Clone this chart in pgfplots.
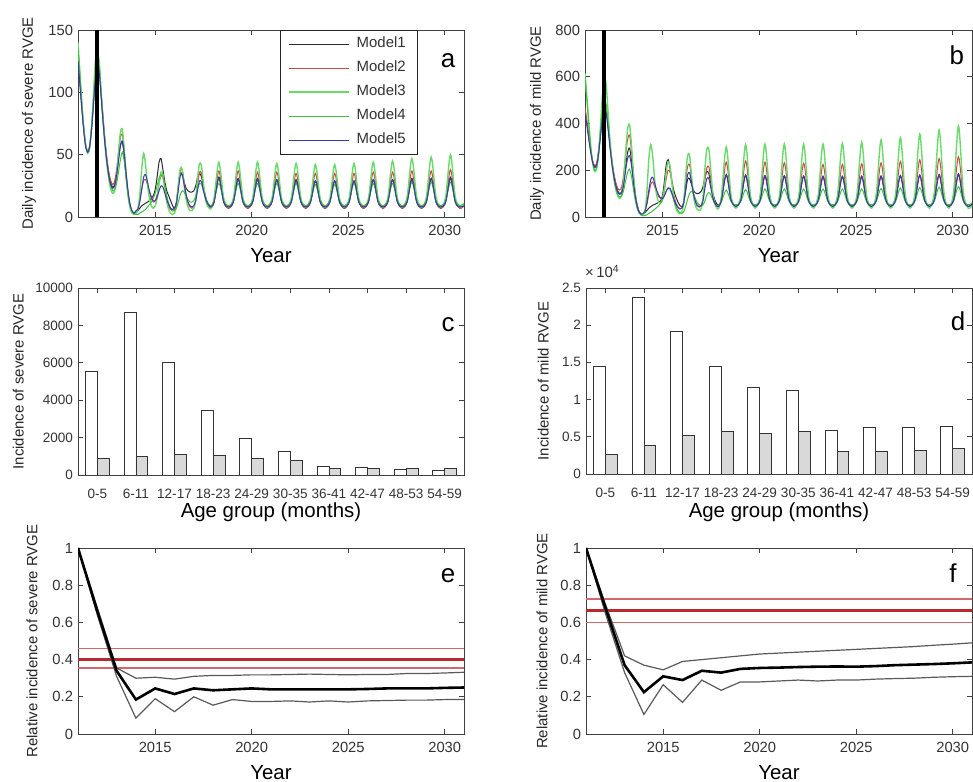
\documentclass[border=0pt]{standalone}
\usepackage{fontspec}
\setmainfont{Liberation Sans}
\usepackage{pgfplots}
\pgfplotsset{compat=1.18}
\usepackage{pgfplotstable}

\definecolor{mone}{HTML}{2B2B2B}
\definecolor{mtwo}{HTML}{D04848}
\definecolor{mthree}{HTML}{6ADB6A}
\definecolor{mfour}{HTML}{3EC23E}
\definecolor{mfive}{HTML}{3A3AAE}
\definecolor{refred}{HTML}{B8282D}
\definecolor{refredl}{HTML}{D46868}
\definecolor{bargrey}{HTML}{D9D9D9}

% daily incidence, severe
\pgfplotstableread{
t m1 m2 m3 m4 m5
2011.0 128 130 140 136 125
2011.1 108 110 116 114 106
2011.2 88 90 92 90 86
2011.3 70 71 72 71 69
2011.4 57 58 57 57 56
2011.5 52 53 51 52 52
2011.6 56 57 55 56 56
2011.7 70 72 72 70 70
2011.8 90 94 98 92 90
2011.9 112 118 125 115 110
2012.0 124 128 131 126 122
2012.1 118 122 125 120 116
2012.2 98 100 100 98 96
2012.3 78 80 78 77 76
2012.4 60 62 58 58 58
2012.5 45 47 42 43 44
2012.6 34 36 30 32 33
2012.7 27 29 22 25 26
2012.8 24 26 19 21 23
2012.9 26 29 21 22 25
2013.0 34 38 32 27 33
2013.1 47 52 52 36 45
2013.2 58 64 68 46 57
2013.3 60 66 70 52 61
2013.4 48 52 53 44 50
2013.5 32 34 32 30 34
2013.6 18 19 16 17 20
2013.7 9 9 7 9 10
2013.8 4 4 3 5 5
2013.9 3 3 2 3 3
2014.0 3 4 3 2 5
2014.1 5 7 6 2 6
2014.2 7 13 18 3 12
2014.3 9 22 38 4 22
2014.4 10 29 51 5 32
2014.5 11 30 42 6 34
2014.6 12 26 26 8 28
2014.7 13 20 15 10 21
2014.8 15 15 9 12 16
2014.9 17 12 7 15 13
2015.0 22 13 9 19 13
2015.1 32 18 15 25 16
2015.2 44 27 27 31 21
2015.3 47 33 36 34 25
2015.4 38 32 34 32 24
2015.5 28 24 22 25 19
2015.6 21 15 12 17 14
2015.7 17 9 6 11 10
2015.8 13 6 3 7 7
2015.9 9 5 2 5 6
2016.0 7 6 3 5 7
2016.1 12 12 10 7 11
2016.2 24 26 26 12 22
2016.3 35 37 39 18 33
2016.4 34 38 38 21 34
2016.5 28 28 25 20 26
2016.6 23 18 14 17 18
2016.7 21 11 8 14 12
2016.8 20 8 5 12 9
2016.9 20 7 5 12 8
2017.0 21 8 7 13 9
2017.1 25 13 14 17 13
2017.2 32 26 32 23 22
2017.3 35 36 43 27 29
2017.4 32 35 41 26 28
2017.5 24 25 27 21 21
2017.6 17 16 15 16 15
2017.7 12 10 9 12 11
2017.8 9 8 7 10 9
2017.9 8 7 7 9 8
2018.05 12 13 15 13 12
2018.3 32 37 44 27 31
2018.55 12 13 15 13 12
2018.8 7 7 8 9 8
2019.05 12 13 15 13 12
2019.3 31 37 44 27 30
2019.55 12 13 15 13 12
2019.8 7 7 8 9 8
2020.05 12 13 15 13 12
2020.3 31 36 44 27 30
2020.55 12 13 15 13 12
2020.8 7 7 8 9 8
2021.05 12 13 15 13 12
2021.3 30 36 43 27 30
2021.55 12 13 15 13 12
2021.8 7 7 8 9 8
2022.05 12 13 15 13 12
2022.3 30 35 43 27 29
2022.55 12 13 15 13 12
2022.8 7 7 8 9 8
2023.05 12 13 15 13 12
2023.3 29 35 42 26 29
2023.55 12 13 15 13 12
2023.8 7 7 8 9 8
2024.05 12 13 15 13 12
2024.3 29 35 42 26 29
2024.55 12 13 15 13 12
2024.8 7 7 8 9 8
2025.05 12 13 15 13 12
2025.3 29 35 43 27 29
2025.55 12 13 15 13 12
2025.8 7 7 8 9 8
2026.05 12 13 15 13 12
2026.3 30 36 44 27 30
2026.55 12 13 15 13 12
2026.8 7 7 8 9 8
2027.05 12 13 15 13 12
2027.3 30 36 45 27 30
2027.55 12 13 15 13 12
2027.8 7 7 8 9 8
2028.05 12 13 16 13 12
2028.3 31 37 47 28 30
2028.55 12 13 16 13 12
2028.8 7 7 8 9 8
2029.05 12 13 16 13 12
2029.3 31 37 48 28 31
2029.55 12 13 16 13 12
2029.8 7 7 8 9 8
2030.05 12 13 16 13 12
2030.3 32 38 50 28 31
2030.55 12 13 16 13 12
2030.8 7 7 8 9 8
2031.0 9 9 10 11 9
}\tabA

% daily incidence, mild
\pgfplotstableread{
t m1 m2 m3 m4 m5
2011.0 450 470 615 600 440
2011.1 400 410 510 500 390
2011.2 340 345 400 390 330
2011.3 280 285 300 295 275
2011.4 235 240 230 230 232
2011.5 215 220 195 200 212
2011.6 225 230 205 210 222
2011.7 275 285 270 265 270
2011.8 350 370 390 360 345
2011.9 430 455 520 460 420
2012.0 470 500 600 500 460
2012.1 450 475 560 470 440
2012.2 380 395 440 390 370
2012.3 300 310 320 300 290
2012.4 230 240 230 225 222
2012.5 175 185 160 165 170
2012.6 135 145 115 120 130
2012.7 110 122 88 95 105
2012.8 100 115 80 85 97
2012.9 110 130 95 90 105
2013.0 150 185 160 115 140
2013.1 215 265 280 155 200
2013.2 275 330 375 190 250
2013.3 295 350 395 205 262
2013.4 245 285 310 175 222
2013.5 165 185 190 120 150
2013.6 95 100 95 70 88
2013.7 48 50 42 35 45
2013.8 22 22 18 17 22
2013.9 12 12 9 8 12
2014.0 10 12 10 5 14
2014.1 18 25 25 6 25
2014.2 28 55 110 10 60
2014.3 38 100 250 15 115
2014.4 45 140 310 20 160
2014.5 50 150 260 26 170
2014.6 54 130 160 33 145
2014.7 58 105 95 40 115
2014.8 62 88 65 48 95
2014.9 68 80 60 58 82
2015.0 90 85 75 72 80
2015.1 150 110 120 92 90
2015.2 225 165 195 112 110
2015.3 245 200 235 122 125
2015.4 205 190 215 118 122
2015.5 150 140 140 95 100
2015.6 110 90 75 68 75
2015.7 85 60 38 45 55
2015.8 65 42 20 28 42
2015.9 50 35 15 18 35
2016.0 45 38 20 15 38
2016.1 60 70 60 22 60
2016.2 110 150 175 45 120
2016.3 160 215 260 75 180
2016.4 165 225 265 100 190
2016.5 140 170 180 110 150
2016.6 115 105 95 100 100
2016.7 103 65 50 80 68
2016.8 100 47 32 62 50
2016.9 102 42 28 52 44
2017.0 110 48 35 48 48
2017.1 130 80 85 52 70
2017.2 170 160 210 70 125
2017.3 195 210 290 95 165
2017.4 185 215 290 105 165
2017.5 145 160 200 95 125
2017.6 105 100 105 75 85
2017.7 75 65 58 58 60
2017.8 58 50 40 50 48
2017.9 50 45 36 47 44
2018.05 72 83 90 65 72
2018.3 180 235 300 115 182
2018.55 72 83 90 65 72
2018.8 45 45 38 52 45
2019.05 72 84 92 65 72
2019.3 178 240 310 118 180
2019.55 72 84 92 65 72
2019.8 45 45 38 52 45
2020.05 71 83 93 66 72
2020.3 176 235 312 120 178
2020.55 71 83 93 66 72
2020.8 45 45 38 52 45
2021.05 71 82 93 66 72
2021.3 175 232 312 120 177
2021.55 71 82 93 66 72
2021.8 45 45 38 52 45
2022.05 71 82 93 66 71
2022.3 174 230 312 120 176
2022.55 71 82 93 66 71
2022.8 45 45 38 52 45
2023.05 70 81 93 66 71
2023.3 172 225 312 120 175
2023.55 70 81 93 66 71
2023.8 45 45 38 52 45
2024.05 70 81 93 66 71
2024.3 172 225 315 120 175
2024.55 70 81 93 66 71
2024.8 45 45 38 52 45
2025.05 70 82 94 66 71
2025.3 172 228 320 120 175
2025.55 70 82 94 66 71
2025.8 45 45 38 52 45
2026.05 71 82 96 66 71
2026.3 174 232 330 122 176
2026.55 71 82 96 66 71
2026.8 45 45 38 52 45
2027.05 71 84 98 66 72
2027.3 176 238 340 124 178
2027.55 71 84 98 66 72
2027.8 45 45 38 52 45
2028.05 72 85 101 67 72
2028.3 178 245 355 126 180
2028.55 72 85 101 67 72
2028.8 45 45 38 52 45
2029.05 72 86 105 67 72
2029.3 180 250 372 128 182
2029.55 72 86 105 67 72
2029.8 45 45 38 52 45
2030.05 72 88 108 68 73
2030.3 182 258 390 130 185
2030.55 72 88 108 68 73
2030.8 45 45 38 52 45
2031.0 55 55 50 60 55
}\tabB

% incidence by age group (white, grey)
\pgfplotstableread{
x w g
0 5550 870
1 8700 980
2 6000 1080
3 3450 1030
4 1950 870
5 1280 770
6 450 360
7 400 350
8 300 350
9 250 350
}\tabC

\pgfplotstableread{
x w g
0 1.44 0.26
1 2.38 0.39
2 1.91 0.52
3 1.45 0.57
4 1.16 0.54
5 1.12 0.57
6 0.58 0.30
7 0.62 0.31
8 0.63 0.32
9 0.64 0.34
}\tabD

% relative incidence (centre, upper, lower)
\pgfplotstableread{
t c u l
2011 1.0 1.0 1.0
2012 0.66 0.68 0.64
2013 0.34 0.355 0.31
2014 0.185 0.30 0.085
2015 0.245 0.305 0.19
2016 0.215 0.295 0.12
2017 0.245 0.31 0.20
2018 0.235 0.315 0.155
2019 0.24 0.315 0.185
2020 0.245 0.318 0.175
2021 0.24 0.318 0.175
2022 0.24 0.32 0.178
2023 0.24 0.322 0.172
2024 0.24 0.32 0.178
2025 0.24 0.318 0.172
2026 0.242 0.32 0.178
2027 0.245 0.32 0.18
2028 0.245 0.325 0.182
2029 0.245 0.325 0.182
2030 0.248 0.328 0.185
2031 0.25 0.332 0.185
}\tabE

\pgfplotstableread{
t c u l
2011 1.0 1.0 1.0
2012 0.68 0.70 0.65
2013 0.37 0.42 0.33
2014 0.225 0.37 0.105
2015 0.31 0.345 0.265
2016 0.29 0.39 0.17
2017 0.34 0.40 0.29
2018 0.33 0.41 0.235
2019 0.35 0.42 0.28
2020 0.355 0.43 0.28
2021 0.357 0.435 0.285
2022 0.36 0.44 0.29
2023 0.362 0.445 0.285
2024 0.363 0.45 0.29
2025 0.362 0.455 0.29
2026 0.365 0.46 0.295
2027 0.37 0.465 0.298
2028 0.373 0.47 0.30
2029 0.376 0.477 0.305
2030 0.38 0.483 0.308
2031 0.385 0.49 0.31
}\tabF

\pgfplotsset{
  panel/.style={
    scale only axis, width=386bp, height=187bp, anchor=south west,
    axis line style={black!75}, every tick/.style={black!75, line width=0.6bp},
    tick align=inside, major tick length=5bp,
    ticklabel style={font=\fontsize{14.8}{16}\selectfont, text=black!80},
    xticklabel style={yshift=-4.5bp}, yticklabel style={xshift=-1.5bp},
    every axis y label/.style={at={(axis description cs:-0.125,0.5)}, rotate=90, anchor=center,
      font=\fontsize{15}{17}\selectfont, text=black!85},
    every axis x label/.style={at={(axis description cs:0.5,-0.165)}, anchor=north, inner sep=0pt,
      font=\fontsize{20.5}{23}\selectfont},
    /pgf/number format/assume math mode=true,
    /pgf/number format/1000 sep={}, scaled ticks=false,
  },
  yearx/.style={xmin=2011, xmax=2031, xtick={2015,2020,2025,2030}, xlabel={Year}},
  series/.style={line width=1bp, smooth, no markers, #1},
  bandline/.style={line width=1.2bp, black!65, no markers},
  barwhite/.style={ybar, bar width=0.31, bar shift=-0.155, fill=white, draw=black!80, line width=0.8bp},
  bargray/.style={ybar, bar width=0.31, bar shift=0.155, fill=bargrey, draw=black!80, line width=0.8bp},
}
\tikzset{panelletter/.style={font=\fontsize{26}{28}\selectfont, anchor=base}}

\begin{document}
\begin{tikzpicture}
\useasboundingbox (0,0) rectangle (973bp,782bp);

% a
\begin{axis}[panel, yearx, at={(78bp,565bp)}, ymin=0, ymax=150, ytick={0,50,100,150},
  ylabel={Daily incidence of severe RVGE},
  ylabel style={at={(axis description cs:-0.127,0.5)}},
  legend style={at={(0.878,1)}, anchor=north east, draw=black!85, fill=white,
    font=\fontsize{15}{17}\selectfont, text=black!80, inner xsep=8bp, inner ysep=2bp,
    column sep=4bp,
    nodes={inner xsep=3bp, inner ysep=4.5bp, text height=11bp, text depth=4bp}},
  legend cell align=left,
  legend image code/.code={\draw[#1] (0bp,0bp) -- (60bp,0bp);}]
\addplot[series={mone}] table[x=t, y=m1] {\tabA};
\addplot[series={mtwo}] table[x=t, y=m2] {\tabA};
\addplot[series={mthree, line width=1.4bp}] table[x=t, y=m3] {\tabA};
\addplot[series={mfour}] table[x=t, y=m4] {\tabA};
\addplot[series={mfive}] table[x=t, y=m5] {\tabA};
\addplot[black, line width=4bp, forget plot] coordinates {(2012,0) (2012,150)};
\legend{Model1, Model2, Model3, Model4, Model5}
\node[panelletter] at (axis description cs:0.959,0.797) {a};
\end{axis}

% b
\begin{axis}[panel, yearx, at={(585bp,565bp)}, width=387bp, ymin=0, ymax=800, ytick={0,200,400,600,800},
  ylabel={Daily incidence of mild RVGE},
  ylabel style={at={(axis description cs:-0.124,0.5)}}]
\addplot[series={mone}] table[x=t, y=m1] {\tabB};
\addplot[series={mtwo}] table[x=t, y=m2] {\tabB};
\addplot[series={mthree, line width=1.4bp}] table[x=t, y=m3] {\tabB};
\addplot[series={mfour}] table[x=t, y=m4] {\tabB};
\addplot[series={mfive}] table[x=t, y=m5] {\tabB};
\addplot[black, line width=4bp] coordinates {(2012,0) (2012,800)};
\node[panelletter] at (axis description cs:0.961,0.813) {b};
\end{axis}

% c
\begin{axis}[panel, at={(78bp,307bp)}, xmin=-0.5, xmax=9.5, ymin=0, ymax=10000,
  ytick={0,2000,4000,6000,8000,10000}, xtick={0,...,9},
  xticklabels={0-5,6-11,12-17,18-23,24-29,30-35,36-41,42-47,48-53,54-59},
  ticklabel style={font=\fontsize{13.6}{15}\selectfont},
  xticklabel style={yshift=-6bp},
  ylabel={Incidence of severe RVGE}, xlabel={Age group (months)},
  ylabel style={at={(axis description cs:-0.155,0.5)}},
  xlabel style={at={(axis description cs:0.5,-0.148)}}]
\addplot[barwhite] table[x=x, y=w] {\tabC};
\addplot[bargray] table[x=x, y=g] {\tabC};
\node[panelletter] at (axis description cs:0.959,0.765) {c};
\end{axis}

% d
\begin{axis}[panel, at={(586bp,308bp)}, height=186bp, xmin=-0.5, xmax=9.5, ymin=0, ymax=2.5,
  clip mode=individual,
  ytick={0,0.5,1,1.5,2,2.5}, xtick={0,...,9},
  xticklabels={0-5,6-11,12-17,18-23,24-29,30-35,36-41,42-47,48-53,54-59},
  ticklabel style={font=\fontsize{13.6}{15}\selectfont},
  xticklabel style={yshift=-6bp},
  ylabel={Incidence of mild RVGE}, xlabel={Age group (months)},
  ylabel style={at={(axis description cs:-0.111,0.5)}},
  xlabel style={at={(axis description cs:0.5,-0.152)}}]
\addplot[barwhite] table[x=x, y=w] {\tabD};
\addplot[bargray] table[x=x, y=g] {\tabD};
\node[panelletter] at (axis description cs:0.964,0.774) {d};
\node[anchor=base west, inner sep=0pt, font=\fontsize{15}{17}\selectfont, text=black!80]
  at (axis description cs:-0.003,1.054) {×\,10\textsuperscript{4}};
\end{axis}

% e
\begin{axis}[panel, yearx, at={(78bp,48bp)}, height=186bp, ymin=0, ymax=1,
  ytick={0,0.2,0.4,0.6,0.8,1},
  ylabel={Relative incidence of severe RVGE},
  ylabel style={at={(axis description cs:-0.119,0.5)}},
  xlabel style={at={(axis description cs:0.5,-0.168)}}]
\addplot[refredl, line width=1.3bp] coordinates {(2011,0.46) (2031,0.46)};
\addplot[refred, line width=2.6bp] coordinates {(2011,0.40) (2031,0.40)};
\addplot[refredl, line width=1.3bp] coordinates {(2011,0.355) (2031,0.355)};
\addplot[bandline] table[x=t, y=u] {\tabE};
\addplot[bandline] table[x=t, y=l] {\tabE};
\addplot[black, line width=2.6bp, no markers] table[x=t, y=c] {\tabE};
\node[panelletter] at (axis description cs:0.959,0.817) {e};
\end{axis}

% f
\begin{axis}[panel, yearx, at={(586bp,48bp)}, height=186bp, ymin=0, ymax=1,
  ytick={0,0.2,0.4,0.6,0.8,1},
  ylabel={Relative incidence of mild RVGE},
  ylabel style={at={(axis description cs:-0.114,0.5)}},
  xlabel style={at={(axis description cs:0.5,-0.168)}}]
\addplot[refredl, line width=1.3bp] coordinates {(2011,0.725) (2031,0.725)};
\addplot[refred, line width=2.6bp] coordinates {(2011,0.665) (2031,0.665)};
\addplot[refredl, line width=1.3bp] coordinates {(2011,0.60) (2031,0.60)};
\addplot[bandline] table[x=t, y=u] {\tabF};
\addplot[bandline] table[x=t, y=l] {\tabF};
\addplot[black, line width=2.6bp, no markers] table[x=t, y=c] {\tabF};
\node[panelletter] at (axis description cs:0.951,0.817) {f};
\end{axis}
\end{tikzpicture}
\end{document}
